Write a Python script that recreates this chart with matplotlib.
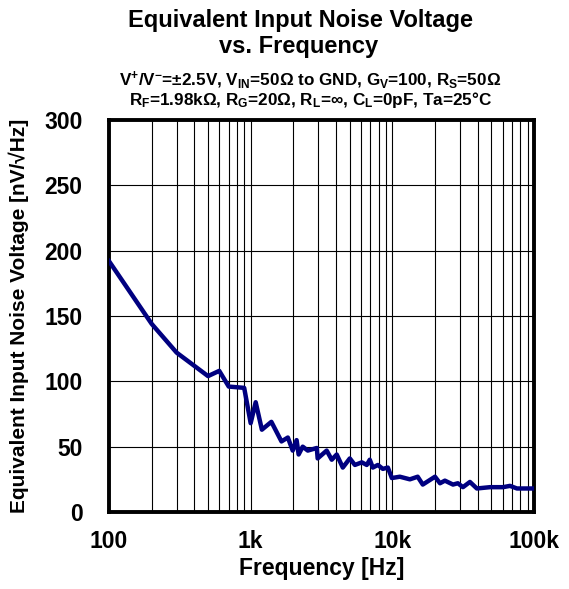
import matplotlib
matplotlib.use("Agg")
import matplotlib.pyplot as plt
from matplotlib.ticker import FixedLocator, NullFormatter

plt.rcParams['font.family'] = ['Liberation Sans', 'DejaVu Sans']
plt.rcParams['font.weight'] = 'bold'
plt.rcParams['mathtext.fontset'] = 'custom'
plt.rcParams['mathtext.rm'] = 'Liberation Sans:bold'
plt.rcParams['mathtext.it'] = 'Liberation Sans:bold'
plt.rcParams['mathtext.bf'] = 'Liberation Sans:bold'
plt.rcParams['mathtext.default'] = 'rm'

freq_hz = [100, 200, 300, 500, 600, 700, 900, 1000, 1085, 1200, 1400, 1650, 1830,
           1980, 2110, 2180, 2330, 2530, 2930, 2970, 3440, 3735, 4050, 4470, 5010,
           5440, 6090, 6600, 6930, 7280, 7900, 8570, 9300, 9920, 11300, 13300,
           15100, 16400, 20000, 21700, 23500, 26800, 29000, 31500, 35300, 39500,
           48900, 60400, 67700, 75800, 100000]
noise_nv = [192, 144, 122, 104, 108, 96, 95, 68, 84, 63, 69, 54, 57,
            47, 55, 44, 50, 47, 49, 41, 47, 40, 44, 34, 41,
            36, 38, 36, 40, 34, 36, 33, 34, 26, 27, 25,
            27, 21, 27, 22, 24, 21, 22, 19, 23, 18,
            19, 19, 20, 18, 18]

xtick_vals = [100, 1000, 10000, 100000]
xtick_labels = ['100', '1k', '10k', '100k']
ytick_vals = [0, 50, 100, 150, 200, 250, 300]

W, H = 569, 589
fig = plt.figure(figsize=(W/100, H/100), dpi=100)
ax = fig.add_axes([109/W, 1-512/H, (534-109)/W, (512-120)/H])

ax.plot(freq_hz, noise_nv, color='#000080', lw=3.2, solid_joinstyle='round', zorder=3)
ax.set_xscale('log')
ax.set_xlim(100, 100000)
ax.set_ylim(0, 300)
ax.set_xticks(xtick_vals)
ax.set_xticklabels(xtick_labels)
ax.xaxis.set_minor_locator(FixedLocator([m * 10**e for e in range(2, 5) for m in range(2, 10)]))
ax.xaxis.set_minor_formatter(NullFormatter())
ax.set_yticks(ytick_vals)
ax.grid(True, which='both', axis='x', color='black', lw=0.8)
ax.grid(True, which='major', axis='y', color='black', lw=0.8)
ax.tick_params(which='both', length=0, labelsize=16.5)
ax.tick_params(axis='x', pad=13)
ax.tick_params(axis='y', pad=19)
for lab in ax.get_xticklabels() + ax.get_yticklabels():
    lab.set_fontweight('bold')
for s in ax.spines.values():
    s.set_linewidth(2.8)

ax.set_xlabel('Frequency [Hz]', fontsize=16.5, fontweight='bold', va='baseline')
ax.xaxis.set_label_coords(0.5, (512-575)/392)
ax.set_ylabel('Equivalent Input Noise Voltage [nV/√Hz]', fontsize=15, fontweight='bold', va='center')
ax.yaxis.set_label_coords((19-109)/425, 0.5)

fig.text(301/W, 1-27/H, 'Equivalent Input Noise Voltage', ha='center', va='baseline',
         fontsize=17, fontweight='bold')
fig.text(299/W, 1-53/H, 'vs. Frequency', ha='center', va='baseline',
         fontsize=17, fontweight='bold')
fig.text(310/W, 1-85/H,
         r'V$^{+}$/V$^{-}$=±2.5V, V$_{IN}$=50Ω to GND, G$_{V}$=100, R$_{S}$=50Ω',
         ha='center', va='baseline', fontsize=12.3, fontweight='bold')
fig.text(311/W, 1-105/H,
         r'R$_{F}$=1.98kΩ, R$_{G}$=20Ω, R$_{L}$=∞, C$_{L}$=0pF, Ta=25°C',
         ha='center', va='baseline', fontsize=12.3, fontweight='bold')

fig.savefig('out.png', dpi=100)
